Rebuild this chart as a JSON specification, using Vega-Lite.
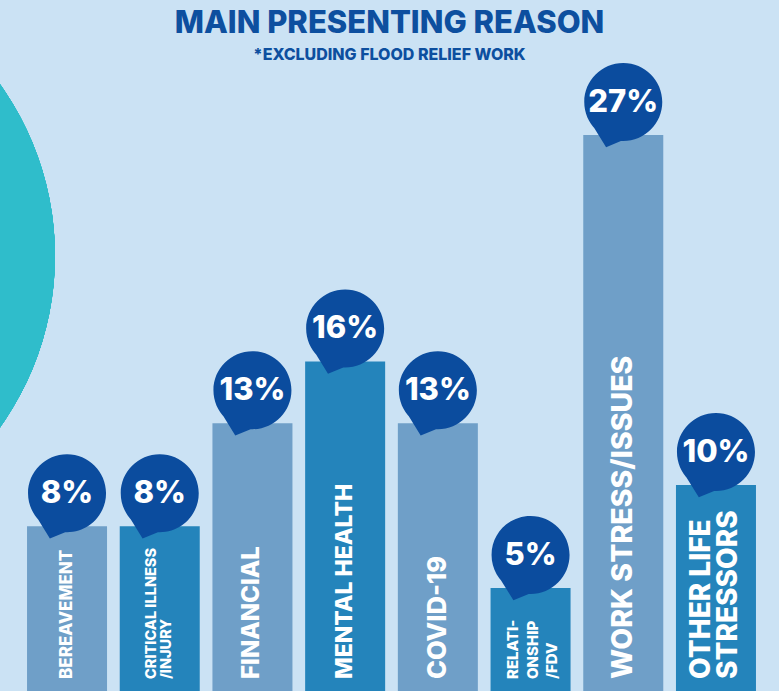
{
  "$schema": "https://vega.github.io/schema/vega-lite/v6.json",
  "width": 779,
  "height": 691,
  "autosize": {"type": "none"},
  "padding": 0,
  "background": "#cbe2f4",
  "config": {"view": {"stroke": null}},
  "title": {
    "text": "MAIN PRESENTING REASON",
    "subtitle": "*EXCLUDING FLOOD RELIEF WORK",
    "anchor": "middle",
    "frame": "group",
    "offset": -103,
    "font": "Inter",
    "fontSize": 31,
    "fontWeight": 800,
    "color": "#0d4f9f",
    "subtitleFont": "Inter",
    "subtitleFontSize": 16,
    "subtitleFontWeight": 800,
    "subtitleColor": "#0d4f9f",
    "subtitlePadding": 7
  },
  "data": {
    "values": [
      {"reason": "BEREAVEMENT", "label": "BEREAVEMENT", "pct": 0.08},
      {"reason": "CRITICAL ILLNESS/INJURY", "label": "CRITICAL ILLNESS\n/INJURY", "pct": 0.08},
      {"reason": "FINANCIAL", "label": "FINANCIAL", "pct": 0.13},
      {"reason": "MENTAL HEALTH", "label": "MENTAL HEALTH", "pct": 0.16},
      {"reason": "COVID-19", "label": "COVID-19", "pct": 0.13},
      {"reason": "RELATIONSHIP/FDV", "label": "RELATI-\nONSHIP\n/FDV", "pct": 0.05},
      {"reason": "WORK STRESS/ISSUES", "label": "WORK STRESS/ISSUES", "pct": 0.27},
      {"reason": "OTHER LIFE STRESSORS", "label": "OTHER LIFE\nSTRESSORS", "pct": 0.10}
    ]
  },
  "resolve": {"scale": {"x": "independent"}},
  "layer": [
    {
      "mark": {"type": "point", "shape": "circle", "filled": true, "opacity": 1, "size": 348100, "color": "#2fbdcb"},
      "encoding": {
        "x": {"datum": -240, "type": "quantitative", "axis": null, "scale": {"domain": [0, 779], "range": [0, 779], "nice": false, "zero": false}},
        "y": {"datum": 0.2113, "type": "quantitative", "axis": null, "scale": {"domain": [0, 0.3355], "nice": false, "zero": true}}
      }
    },
    {
      "layer": [
        {
          "mark": {"type": "bar"},
          "encoding": {
            "y": {"field": "pct", "type": "quantitative", "axis": null, "scale": {"domain": [0, 0.3355], "nice": false, "zero": true}},
            "color": {
              "field": "reason",
              "type": "nominal",
              "legend": null,
              "scale": {
                "domain": ["BEREAVEMENT", "CRITICAL ILLNESS/INJURY", "FINANCIAL", "MENTAL HEALTH", "COVID-19", "RELATIONSHIP/FDV", "WORK STRESS/ISSUES", "OTHER LIFE STRESSORS"],
                "range": ["#6f9fc8", "#2484bb", "#6f9fc8", "#2484bb", "#6f9fc8", "#2484bb", "#6f9fc8", "#2484bb"]
              }
            }
          }
        },
        {
          "mark": {
            "type": "point",
            "shape": "M -1,0 A 1,1 0 1,1 1,0 A 1,1 0 1,1 -1,0 Z M 0,0.98 L -0.44,1.16 L -0.8,0.58 Z",
            "filled": true,
            "opacity": 1,
            "size": 6084,
            "color": "#0b4c9e",
            "yOffset": -33
          },
          "encoding": {"y": {"field": "pct", "type": "quantitative", "axis": null}}
        },
        {
          "mark": {"type": "text", "color": "white", "font": "Inter", "fontWeight": 800, "fontSize": 31, "baseline": "middle", "align": "center", "yOffset": -33, "dy": 1},
          "encoding": {
            "y": {"field": "pct", "type": "quantitative", "axis": null},
            "text": {"field": "pct", "type": "quantitative", "format": ".0%"}
          }
        },
        {
          "transform": [{"filter": {"field": "reason", "equal": "BEREAVEMENT"}}],
          "mark": {"type": "text", "color": "white", "font": "Inter", "fontWeight": 800, "angle": 270, "align": "left", "baseline": "middle", "lineBreak": "\n", "yOffset": -12, "fontSize": 17},
          "encoding": {"y": {"datum": 0, "type": "quantitative"}, "text": {"field": "label"}}
        },
        {
          "transform": [{"filter": {"field": "reason", "equal": "CRITICAL ILLNESS/INJURY"}}],
          "mark": {"type": "text", "color": "white", "font": "Inter", "fontWeight": 800, "angle": 270, "align": "left", "baseline": "middle", "lineBreak": "\n", "yOffset": -12, "fontSize": 14.5, "lineHeight": 15, "dy": -7.5},
          "encoding": {"y": {"datum": 0, "type": "quantitative"}, "text": {"field": "label"}}
        },
        {
          "transform": [{"filter": {"field": "reason", "equal": "FINANCIAL"}}],
          "mark": {"type": "text", "color": "white", "font": "Inter", "fontWeight": 800, "angle": 270, "align": "left", "baseline": "middle", "lineBreak": "\n", "yOffset": -12, "fontSize": 24},
          "encoding": {"y": {"datum": 0, "type": "quantitative"}, "text": {"field": "label"}}
        },
        {
          "transform": [{"filter": {"field": "reason", "equal": "MENTAL HEALTH"}}],
          "mark": {"type": "text", "color": "white", "font": "Inter", "fontWeight": 800, "angle": 270, "align": "left", "baseline": "middle", "lineBreak": "\n", "yOffset": -12, "fontSize": 23},
          "encoding": {"y": {"datum": 0, "type": "quantitative"}, "text": {"field": "label"}}
        },
        {
          "transform": [{"filter": {"field": "reason", "equal": "COVID-19"}}],
          "mark": {"type": "text", "color": "white", "font": "Inter", "fontWeight": 800, "angle": 270, "align": "left", "baseline": "middle", "lineBreak": "\n", "yOffset": -12, "fontSize": 25.5},
          "encoding": {"y": {"datum": 0, "type": "quantitative"}, "text": {"field": "label"}}
        },
        {
          "transform": [{"filter": {"field": "reason", "equal": "RELATIONSHIP/FDV"}}],
          "mark": {"type": "text", "color": "white", "font": "Inter", "fontWeight": 800, "angle": 270, "align": "left", "baseline": "middle", "lineBreak": "\n", "yOffset": -12, "fontSize": 15, "lineHeight": 19.5, "dy": -17.5},
          "encoding": {"y": {"datum": 0, "type": "quantitative"}, "text": {"field": "label"}}
        },
        {
          "transform": [{"filter": {"field": "reason", "equal": "WORK STRESS/ISSUES"}}],
          "mark": {"type": "text", "color": "white", "font": "Inter", "fontWeight": 800, "angle": 270, "align": "left", "baseline": "middle", "lineBreak": "\n", "yOffset": -12, "fontSize": 28.5},
          "encoding": {"y": {"datum": 0, "type": "quantitative"}, "text": {"field": "label"}}
        },
        {
          "transform": [{"filter": {"field": "reason", "equal": "OTHER LIFE STRESSORS"}}],
          "mark": {"type": "text", "color": "white", "font": "Inter", "fontWeight": 800, "angle": 270, "align": "left", "baseline": "middle", "lineBreak": "\n", "yOffset": -12, "fontSize": 28, "lineHeight": 27, "dy": -13.5},
          "encoding": {"y": {"datum": 0, "type": "quantitative"}, "text": {"field": "label"}}
        }
      ],
      "encoding": {
        "x": {
          "field": "reason",
          "type": "nominal",
          "sort": null,
          "axis": null,
          "scale": {"type": "band", "paddingInner": 0.137, "paddingOuter": 0.27, "align": 0.54}
        }
      }
    }
  ]
}
